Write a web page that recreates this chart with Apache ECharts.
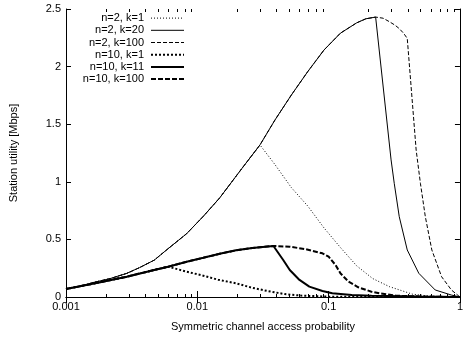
<!DOCTYPE html>
<html>
<head>
<meta charset="utf-8">
<script src="https://cdn.jsdelivr.net/npm/echarts@6/dist/echarts.min.js"></script>
<style>
  html, body { margin: 0; padding: 0; background: #fff; }
  #chart { width: 466px; height: 339px; }
</style>
</head>
<body>
<div id="chart"></div>
<script>
// symmetric channel access probability (x) and station utility in Mbps (y)
const n2k1P = [0.001, 0.0013, 0.0016, 0.00217, 0.0029, 0.00363, 0.0047, 0.006, 0.0083, 0.0111, 0.0148, 0.022, 0.030,
               0.039, 0.052, 0.0693, 0.0922, 0.1229, 0.1637, 0.2167, 0.2902, 0.433, 0.577, 1];
const n2k1U = [0.07, 0.095, 0.125, 0.16, 0.205, 0.255, 0.32, 0.42, 0.55, 0.70, 0.86, 1.12, 1.32,
               1.15, 0.95, 0.79, 0.60, 0.43, 0.27, 0.16, 0.09, 0.025, 0.009, 0];

const n2k20P = [0.001, 0.0013, 0.0016, 0.00217, 0.0029, 0.00363, 0.0047, 0.006, 0.0083, 0.0111, 0.0148, 0.022, 0.030,
                0.039, 0.052, 0.0693, 0.0922, 0.1229, 0.1637, 0.1921, 0.228,
                0.299, 0.316, 0.345, 0.397, 0.486, 0.648, 0.861, 1];
const n2k20U = [0.07, 0.095, 0.125, 0.16, 0.205, 0.255, 0.32, 0.42, 0.55, 0.70, 0.86, 1.12, 1.32,
                1.536, 1.753, 1.956, 2.144, 2.29, 2.38, 2.415, 2.43,
                1.19, 0.987, 0.697, 0.408, 0.206, 0.061, 0.017, 0];

const n2k100P = [0.001, 0.0013, 0.0016, 0.00217, 0.0029, 0.00363, 0.0047, 0.006, 0.0083, 0.0111, 0.0148, 0.022, 0.030,
                 0.039, 0.052, 0.0693, 0.0922, 0.1229, 0.1637, 0.1921, 0.228,
                 0.260, 0.290, 0.320, 0.345, 0.372, 0.397, 0.464, 0.500, 0.545, 0.611, 0.725, 0.861, 1];
const n2k100U = [0.07, 0.095, 0.125, 0.16, 0.205, 0.255, 0.32, 0.42, 0.55, 0.70, 0.86, 1.12, 1.32,
                 1.536, 1.753, 1.956, 2.144, 2.29, 2.38, 2.415, 2.43,
                 2.42, 2.39, 2.36, 2.33, 2.29, 2.245, 1.276, 0.987, 0.697, 0.408, 0.176, 0.061, 0];

const n10k1P = [0.001, 0.0016, 0.0029, 0.0047, 0.006, 0.0083, 0.0111, 0.0144, 0.0197, 0.0262, 0.0349, 0.0464, 0.0618, 0.1, 1];
const n10k1U = [0.07, 0.115, 0.176, 0.235, 0.263, 0.22, 0.185, 0.15, 0.119, 0.08, 0.05, 0.025, 0.012, 0.003, 0];

const n10k11P = [0.001, 0.0016, 0.0029, 0.0047, 0.006, 0.0083, 0.0111, 0.0148, 0.0197, 0.0262, 0.038,
                 0.0451, 0.0506, 0.060, 0.0713, 0.0897, 0.1066, 0.1503, 0.212, 0.486, 1];
const n10k11U = [0.07, 0.115, 0.176, 0.235, 0.263, 0.306, 0.34, 0.375, 0.405, 0.425, 0.443,
                 0.321, 0.234, 0.148, 0.09, 0.052, 0.032, 0.017, 0.011, 0.004, 0];

const n10k100P = [0.001, 0.0016, 0.0029, 0.0047, 0.006, 0.0083, 0.0111, 0.0148, 0.0197, 0.0262, 0.038,
                  0.0506, 0.0674, 0.0897, 0.1, 0.1128, 0.1229, 0.1418, 0.1683, 0.212, 0.244, 0.326, 0.577, 1];
const n10k100U = [0.07, 0.115, 0.176, 0.235, 0.263, 0.306, 0.34, 0.375, 0.405, 0.425, 0.443,
                  0.437, 0.414, 0.379, 0.35, 0.278, 0.206, 0.133, 0.084, 0.046, 0.032, 0.011, 0.002, 0];

const legendNames = ['n=2, k=1', 'n=2, k=20', 'n=2, k=100', 'n=10, k=1', 'n=10, k=11', 'n=10, k=100'];
const minorTickP = [0.002, 0.003, 0.004, 0.005, 0.006, 0.007, 0.008, 0.009,
                    0.02, 0.03, 0.04, 0.05, 0.06, 0.07, 0.08, 0.09,
                    0.2, 0.3, 0.4, 0.5, 0.6, 0.7, 0.8, 0.9];

const font = 'Liberation Sans, Arial, Helvetica, sans-serif';
const chart = echarts.init(document.getElementById('chart'));

function pairs(xs, ys) {
  return xs.map((x, i) => [x, ys[i]]);
}

function curve(name, xs, ys, width, dash, z) {
  return {
    name: name,
    type: 'line',
    data: pairs(xs, ys),
    symbol: 'none',
    z: z,
    itemStyle: { color: '#000' },
    lineStyle: { color: '#000', width: width, type: dash },
    emphasis: { disabled: true }
  };
}

const tickStyle = { color: '#000', width: 1 };
const labelFmt = v => String(+Number(v).toPrecision(6));

let option = {
  animation: false,
  grid: { left: 60, right: 4, top: 9, bottom: 42 },
  legend: {
    data: legendNames,
    orient: 'vertical',
    align: 'right',
    right: 281,
    top: 12,
    padding: 0,
    itemGap: 0,
    itemWidth: 33,
    itemHeight: 8,
    itemStyle: { opacity: 0 },   // line sample only, no symbol
    lineStyle: { width: 'inherit' },
    textStyle: { fontFamily: font, fontSize: 11, color: '#000', lineHeight: 12.2, padding: [0, 2, 0, 0] }
  },
  xAxis: [{
    type: 'log',
    logBase: 10,
    min: 0.001,
    max: 1,
    position: 'bottom',
    name: 'Symmetric channel access probability',
    nameLocation: 'middle',
    nameGap: 24,
    nameTextStyle: { fontFamily: font, fontSize: 11, color: '#000' },
    axisLine: { show: true, lineStyle: tickStyle },
    axisTick: { show: true, inside: true, length: 6, lineStyle: tickStyle },
    axisLabel: { fontFamily: font, fontSize: 11, color: '#000', margin: 4, formatter: labelFmt },
    splitLine: { show: false }
  }, {
    type: 'log',
    logBase: 10,
    min: 0.001,
    max: 1,
    position: 'top',
    axisLine: { show: true, lineStyle: tickStyle },
    axisTick: { show: true, inside: true, length: 6, lineStyle: tickStyle },
    axisLabel: { show: false },
    splitLine: { show: false }
  }],
  yAxis: [{
    type: 'value',
    min: 0,
    max: 2.5,
    interval: 0.5,
    position: 'left',
    name: 'Station utility [Mbps]',
    nameLocation: 'middle',
    nameGap: 47,
    nameTextStyle: { fontFamily: font, fontSize: 11, color: '#000' },
    axisLine: { show: true, lineStyle: tickStyle },
    axisTick: { show: true, inside: true, length: 5, lineStyle: tickStyle },
    axisLabel: { fontFamily: font, fontSize: 11, color: '#000', margin: 5 },
    splitLine: { show: false }
  }, {
    type: 'value',
    min: 0,
    max: 2.5,
    interval: 0.5,
    position: 'right',
    axisLine: { show: true, lineStyle: tickStyle },
    axisTick: { show: true, inside: true, length: 5, lineStyle: tickStyle },
    axisLabel: { show: false },
    splitLine: { show: false }
  }],
  series: [
    curve('n=2, k=1', n2k1P, n2k1U, 1, [1, 2], 2),
    curve('n=2, k=20', n2k20P, n2k20U, 1, 'solid', 4),
    curve('n=2, k=100', n2k100P, n2k100U, 1, [4, 2], 3),
    curve('n=10, k=1', n10k1P, n10k1U, 2, [2, 2], 2),
    curve('n=10, k=11', n10k11P, n10k11U, 2, 'solid', 4),
    curve('n=10, k=100', n10k100P, n10k100U, 2, [5, 2], 3),
    {
      // minor log ticks on the bottom and top edges
      type: 'custom',
      silent: true,
      z: 5,
      data: minorTickP.map(p => [p, 0]),
      renderItem: function (params, api) {
        const p = api.value(0);
        const b = api.coord([p, 0]);
        const t = api.coord([p, 2.5]);
        const x = Math.round(b[0]) + 0.5;
        return {
          type: 'group',
          children: [
            { type: 'line', shape: { x1: x, y1: b[1], x2: x, y2: b[1] - 3 }, style: { stroke: '#000', lineWidth: 1 } },
            { type: 'line', shape: { x1: x, y1: t[1], x2: x, y2: t[1] + 3 }, style: { stroke: '#000', lineWidth: 1 } }
          ]
        };
      }
    }
  ]
};

chart.setOption(option);
</script>
</body>
</html>
